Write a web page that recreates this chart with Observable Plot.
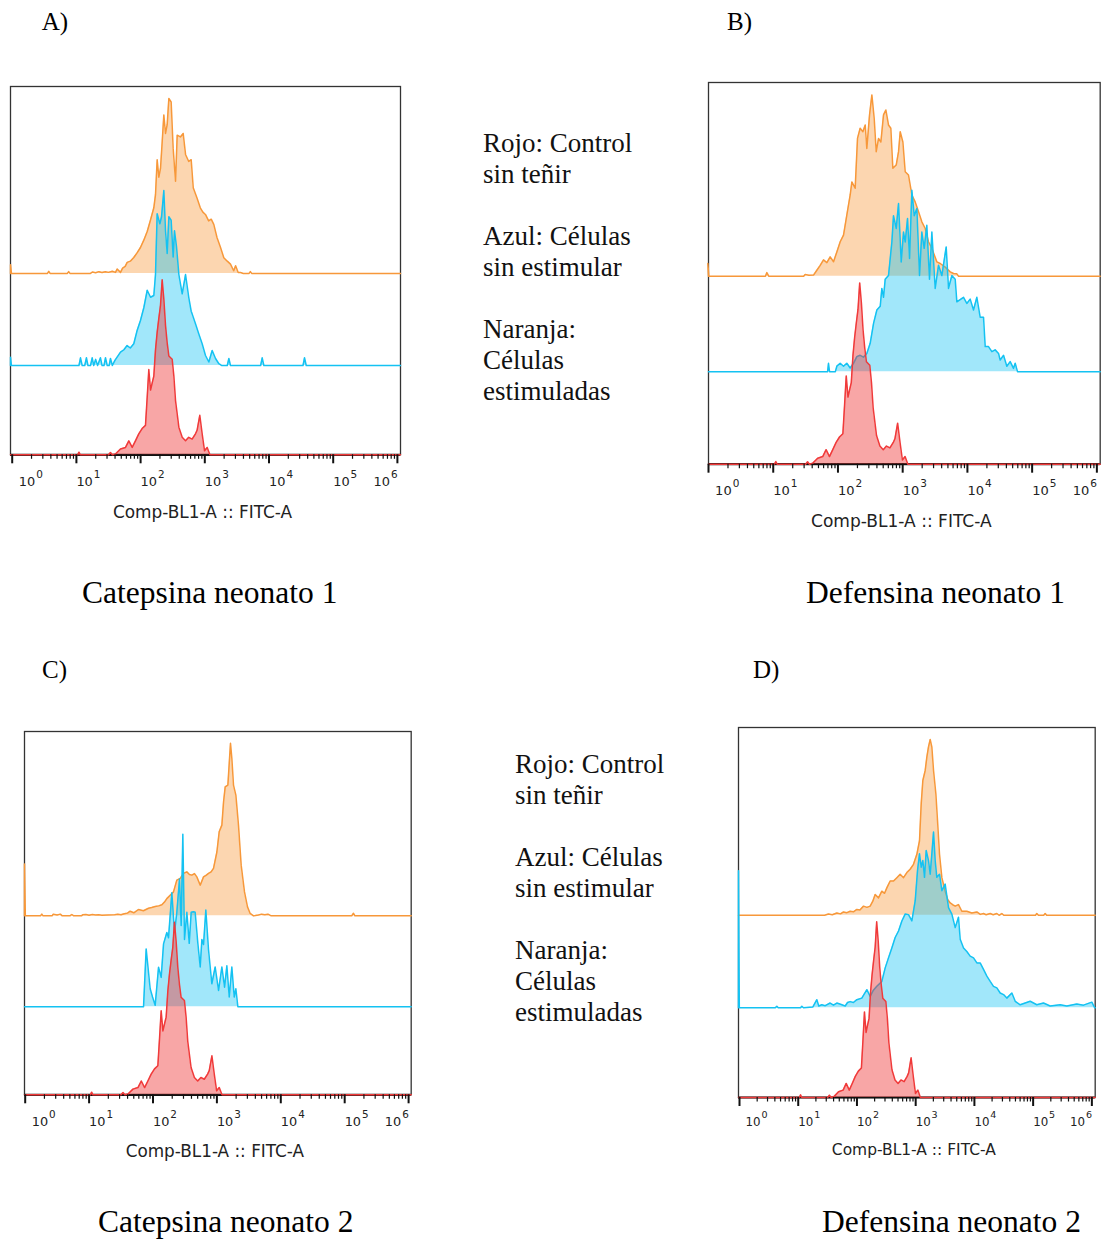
<!DOCTYPE html>
<html><head><meta charset="utf-8">
<script src="https://cdn.jsdelivr.net/npm/d3@7"></script>
<script src="https://cdn.jsdelivr.net/npm/@observablehq/plot@0.6"></script>
<style>
body{margin:0;background:#fff;}
#page{position:relative;width:1103px;height:1240px;overflow:hidden;background:#fff;}
.panel{position:absolute;}
.panel svg{max-width:none !important;}
#overlay{position:absolute;left:0;top:0;}
</style></head><body><div id="page"><svg id="overlay" width="1103" height="1240"></svg></div>
<script>
// ---------- DATA (x = log10 of fluorescence, value = % of series maximum) ----------
const decadeTicks = [0, 1, 2, 3, 4, 5, 6];
const exponentLabels = ["0", "1", "2", "3", "4", "5", "6"];
const axisTitle = "Comp-BL1-A :: FITC-A";
const panelLetters = ["A)", "B)", "C)", "D)"];
const panelTitles = ["Catepsina neonato 1", "Defensina neonato 1", "Catepsina neonato 2", "Defensina neonato 2"];
const legendLines = ["Rojo: Control", "sin teñir", "", "Azul: Células", "sin estimular", "", "Naranja:", "Células", "estimuladas"];

// Rojo: control sin teñir (same control in all panels)
const controlSinTenir = [[1.02,0],[1.04,1.5],[1.06,0],[1.5,0],[1.531,1.3],[1.56,0],[1.609,0.5],[1.687,3.3],[1.765,4.2],[1.817,8],[1.869,4.2],[1.92,8],[1.972,12],[2.024,15],[2.076,16.8],[2.103,33],[2.128,48.7],[2.155,37],[2.18,41],[2.206,45],[2.232,60],[2.258,70],[2.284,78],[2.31,85.5],[2.336,100],[2.362,89],[2.388,74],[2.414,64],[2.44,56.5],[2.492,54.6],[2.518,45],[2.544,31],[2.596,15.8],[2.648,10],[2.7,8],[2.75,10],[2.803,9],[2.855,12],[2.88,14],[2.922,22.6],[2.959,12],[2.996,2.3],[3.037,4.2],[3.08,0]];

// Panel A: Catepsina neonato 1
const catepsina1Estimuladas = [[-0.026,5],[-0.012,0],[0.55,0],[0.57,1.2],[0.59,0],[0.86,0],[0.88,1],[0.9,0],[1.22,0],[1.25,0.8],[1.3,0.4],[1.35,1],[1.4,0.5],[1.45,1],[1.5,0.6],[1.56,1.2],[1.609,0.6],[1.635,2.5],[1.687,0.6],[1.72,3],[1.76,4],[1.791,6.3],[1.84,7],[1.894,9.1],[1.95,12],[1.998,14.8],[2.05,19],[2.103,24],[2.15,30],[2.206,37.5],[2.232,45],[2.258,65],[2.284,55],[2.31,60],[2.336,75],[2.362,90.6],[2.388,80],[2.414,85],[2.44,100],[2.476,98],[2.507,71.6],[2.544,52.7],[2.57,79],[2.62,78],[2.663,80],[2.7,68],[2.75,64],[2.788,65],[2.82,49],[2.85,46],[2.88,43],[2.93,37.5],[2.97,35],[3.01,33.7],[3.06,30],[3.1,31],[3.14,28],[3.19,20.5],[3.245,14.8],[3.296,9],[3.35,7],[3.4,5.3],[3.45,1.5],[3.48,4.4],[3.52,0.5],[3.556,0.5],[3.6,0],[3.69,0],[3.71,1],[3.73,0]];
const catepsina1SinEstimular = [[-0.026,4.7],[-0.012,0],[1.04,0],[1.064,4.4],[1.09,0],[1.13,0],[1.157,4.4],[1.18,0],[1.22,0],[1.246,4.4],[1.27,0],[1.3,3.5],[1.33,0],[1.375,4.4],[1.4,0],[1.43,0],[1.453,4.4],[1.48,0],[1.51,0],[1.531,4],[1.56,0],[1.6,2.9],[1.687,7.6],[1.74,9],[1.79,11.4],[1.84,10],[1.894,12.4],[1.946,20],[1.998,25.7],[2.05,33],[2.103,43],[2.155,39],[2.206,40],[2.232,52],[2.258,86.7],[2.3,81],[2.326,85],[2.362,100],[2.388,77],[2.414,64],[2.44,85],[2.476,83],[2.507,62],[2.528,77],[2.559,68],[2.596,52],[2.648,41],[2.7,52],[2.75,39],[2.788,31],[2.803,29.5],[2.855,23.8],[2.907,18],[2.959,12.4],[3.011,5.7],[3.063,2],[3.115,8.6],[3.167,4],[3.219,1],[3.26,0],[3.35,0],[3.375,4],[3.4,0],[3.87,0],[3.894,4.4],[3.92,0],[4.53,0],[4.553,4.4],[4.58,0]];

// Panel B: Defensina neonato 1
const defensina1Estimuladas = [[-0.01,7],[0.005,0],[0.88,0],[0.902,2],[0.93,0],[1.47,0],[1.494,1],[1.55,0.5],[1.623,0.6],[1.674,3.3],[1.726,6],[1.777,9],[1.829,7.5],[1.88,10.7],[1.932,8],[1.983,13.4],[2.035,19],[2.086,22.7],[2.137,33.7],[2.189,44.8],[2.215,52],[2.266,48.5],[2.302,76],[2.343,81.6],[2.385,79.7],[2.421,83.4],[2.446,70.5],[2.488,89],[2.524,100],[2.56,87],[2.591,68.7],[2.627,76],[2.663,74],[2.704,89],[2.74,91.7],[2.781,83.4],[2.817,81.6],[2.848,59.5],[2.9,61.3],[2.936,68.7],[2.962,79.7],[3.003,74],[3.039,57.6],[3.09,55.8],[3.142,44.8],[3.193,41],[3.245,35.5],[3.296,30],[3.348,26.3],[3.399,19],[3.451,15.3],[3.528,7.9],[3.58,7],[3.657,5],[3.734,2.4],[3.786,1.5],[3.837,1.3],[3.863,0]];
const defensina1SinEstimular = [[1.84,0],[1.854,4.6],[1.87,0],[1.96,0],[1.983,3],[2.035,4.6],[2.086,3],[2.137,4.6],[2.189,2],[2.24,4.6],[2.292,8.3],[2.343,9],[2.395,8],[2.446,10],[2.498,15.6],[2.55,26.6],[2.601,34],[2.653,36],[2.678,45.9],[2.704,41],[2.73,51],[2.781,53],[2.833,71.5],[2.858,86],[2.9,79],[2.936,92.7],[2.977,60.5],[3.013,77],[3.039,71.5],[3.075,84.4],[3.106,62.4],[3.142,100],[3.178,86],[3.219,90],[3.26,53],[3.296,77],[3.332,68],[3.373,80.7],[3.414,51],[3.451,77],[3.502,45.9],[3.554,58.7],[3.605,53],[3.672,68.8],[3.708,45.9],[3.76,53],[3.811,51],[3.837,38.5],[3.94,41],[3.991,37.6],[4.043,40],[4.094,34],[4.146,41],[4.197,30],[4.249,30],[4.275,13.8],[4.326,13.8],[4.378,11],[4.429,12],[4.481,10],[4.506,6.4],[4.558,9],[4.609,3],[4.661,5.5],[4.712,1.8],[4.738,4.6],[4.774,0]];

// Panel C: Catepsina neonato 2
const catepsina2Estimuladas = [[-0.011,30],[0.002,0],[0.24,0],[0.26,1],[0.28,0],[0.42,0],[0.44,1],[0.5,0.5],[0.55,1],[0.58,0],[0.7,0],[0.73,0.8],[0.76,0],[0.88,0],[0.9,0.6],[0.95,0.8],[1.0,0.4],[1.05,0.8],[1.1,0.5],[1.15,0.6],[1.2,0.4],[1.3,0.5],[1.4,0.6],[1.45,1],[1.5,0.6],[1.55,1.2],[1.6,1.6],[1.643,2.7],[1.7,1.8],[1.773,3.7],[1.85,3],[1.93,4.4],[1.98,4.8],[2.034,5.4],[2.09,5.8],[2.139,6.4],[2.18,8],[2.217,10],[2.269,12],[2.321,13.9],[2.373,20.7],[2.426,21.7],[2.478,24.6],[2.53,25.5],[2.57,24],[2.608,23.6],[2.65,24.5],[2.686,22.6],[2.739,17.8],[2.791,22.6],[2.83,23.5],[2.869,24.6],[2.91,25.5],[2.947,27.5],[3.0,37],[3.036,48.7],[3.078,52.6],[3.104,66],[3.13,74.8],[3.172,75.8],[3.198,91.3],[3.213,100],[3.234,91.3],[3.26,75.8],[3.297,70],[3.338,52.6],[3.38,29.4],[3.432,13.9],[3.479,5.2],[3.521,1.4],[3.573,0],[3.65,0.5],[3.7,1],[3.75,0.6],[3.8,1],[3.85,0],[5.11,0],[5.138,1.5],[5.16,0]];
const catepsina2SinEstimular = [[1.84,0],[1.852,0],[1.893,33.5],[1.956,10.4],[1.993,5.6],[2.034,0.8],[2.087,22.9],[2.128,17],[2.165,36.4],[2.217,43],[2.243,40],[2.295,66],[2.337,43],[2.373,54.7],[2.415,74],[2.441,47],[2.467,100],[2.493,39],[2.53,54.7],[2.567,36.7],[2.598,54.7],[2.634,55],[2.66,54.7],[2.702,36.7],[2.739,23],[2.765,39],[2.791,36],[2.827,56],[2.869,33],[2.921,13.3],[2.973,23],[3.026,9.4],[3.078,23],[3.12,11.3],[3.156,23.7],[3.193,5.6],[3.234,23],[3.271,5.6],[3.297,10.4],[3.328,0]];

// Panel D: Defensina neonato 2
const defensina2Estimuladas = [[1.45,0],[1.516,0.7],[1.58,0.3],[1.658,1.3],[1.72,0.8],[1.771,1.9],[1.83,1.5],[1.885,2.3],[1.94,2],[1.998,3.3],[2.05,3],[2.112,5.2],[2.17,4.5],[2.225,5.2],[2.27,8],[2.31,11.8],[2.367,9.9],[2.424,13.7],[2.47,12.5],[2.509,15.6],[2.566,19.5],[2.623,19.5],[2.68,21.4],[2.736,23.3],[2.793,21.4],[2.85,24.3],[2.906,26.2],[2.963,29],[3.02,34.7],[3.065,42.4],[3.094,63.4],[3.122,76.7],[3.162,82.4],[3.19,90],[3.218,95.8],[3.247,100],[3.275,95.8],[3.304,82.4],[3.344,69],[3.372,53.8],[3.406,34.7],[3.446,21.4],[3.502,13.7],[3.545,9],[3.588,7],[3.63,6],[3.673,5.2],[3.729,6.1],[3.786,2.3],[3.871,2.3],[3.956,1.3],[4.042,1.9],[4.1,0.5],[4.155,1],[4.2,0.3],[4.269,1],[4.32,0.3],[4.382,1],[4.42,0],[4.467,1],[4.5,0],[5.04,0],[5.063,1],[5.09,0],[5.18,0],[5.205,1],[5.23,0]];
const defensina2SinEstimular = [[-0.017,78],[-0.003,0],[0.61,0],[0.636,0.8],[0.66,0],[1.04,0],[1.062,0.8],[1.09,0],[1.25,0.5],[1.317,4.6],[1.35,1],[1.402,1.7],[1.46,1.2],[1.544,2.7],[1.6,1.5],[1.658,2.7],[1.72,2],[1.8,1],[1.84,3],[1.885,3.5],[1.94,3],[1.998,4.6],[2.083,5.5],[2.169,10.3],[2.225,6.5],[2.28,10],[2.339,12.2],[2.424,15],[2.481,22.7],[2.537,28.4],[2.594,34],[2.651,40],[2.708,43.7],[2.765,49.4],[2.821,53.3],[2.878,53],[2.935,49.4],[2.992,60.9],[3.031,78],[3.065,87.6],[3.094,80],[3.122,83.8],[3.15,74.2],[3.179,89.5],[3.218,83.8],[3.247,76],[3.275,87.6],[3.304,100],[3.332,83.8],[3.36,74.2],[3.406,76],[3.446,66.6],[3.502,70.4],[3.559,57],[3.616,53.3],[3.673,45.6],[3.729,51.5],[3.758,39],[3.815,34],[3.871,32],[3.928,29.4],[3.985,28.4],[4.042,25.5],[4.098,25.5],[4.155,21.8],[4.212,18],[4.269,15],[4.325,12.2],[4.382,11.3],[4.439,8.4],[4.496,7.5],[4.552,5.5],[4.638,8.4],[4.695,3.7],[4.78,1.7],[4.865,2.7],[4.95,3.7],[5.063,1.7],[5.177,2.7],[5.29,1],[5.461,1.7],[5.574,1],[5.744,2.1],[5.858,1.5],[6.0,3.2],[6.047,0]];

// ---------- LAYOUT ----------
const panels = [
  {orange: catepsina1Estimuladas, blue: catepsina1SinEstimular, red: controlSinTenir, left: 10, right: 400, top: 85.7, bottom: 454, d0: 11.7, ppd: 64.2},
  {orange: defensina1Estimuladas, blue: defensina1SinEstimular, red: controlSinTenir, left: 708.3, right: 1100, top: 82.3, bottom: 464, d0: 708.3, ppd: 64.73},
  {orange: catepsina2Estimuladas, blue: catepsina2SinEstimular, red: controlSinTenir, left: 24.3, right: 411, top: 731, bottom: 1094.3, d0: 25, ppd: 63.9},
  {orange: defensina2Estimuladas, blue: defensina2SinEstimular, red: controlSinTenir, left: 738.3, right: 1095, top: 726.7, bottom: 1096.7, d0: 739.3, ppd: 58.73}
];
const COLORS = {orange: "#f7983a", blue: "#14c2f2", red: "#f03a3a"};
const OFFSETS = {red: 0, blue: 0.97, orange: 1.97};
const PEAK = 1.9;
const minorTicks = [];
for (let d = 0; d < 6; d++) for (let k = 2; k <= 9; k++) minorTicks.push(d + Math.log10(k));

function makePanel(p) {
  const mL = 14, mR = 14, mT = 10, mB = 80;
  const fw = p.right - p.left, fh = p.bottom - p.top;
  const s = p.ppd / 64.5;
  const xDomain = [(p.left - p.d0) / p.ppd, (p.right - p.d0) / p.ppd];
  const unit = fh / 4;
  const k = PEAK / 100;
  const pts = arr => [{x: xDomain[0], v: 0}, ...arr.map(([x, v]) => ({x, v})), {x: xDomain[1], v: 0}];
  const seriesMarks = [];
  for (const key of ["orange", "blue", "red"]) {
    const off = OFFSETS[key];
    const data = pts(p[key]);
    seriesMarks.push(
      Plot.areaY(data, {x: "x", y1: () => off, y2: d => off + d.v * k, fill: COLORS[key], fillOpacity: key === "red" ? 0.45 : 0.4, curve: "linear"}),
      Plot.line(data, {x: "x", y: d => off + d.v * k, stroke: COLORS[key], strokeWidth: 1.5, curve: "linear"})
    );
  }
  const last = decadeTicks.length - 1;
  const shift = (d, i) => (i === 0 ? 6.6 : i === last ? -24 : 0) * s;
  const font = "DejaVu Sans";
  const W = fw + mL + mR, H = fh + mT + mB;
  const chart = Plot.plot({
    width: W, height: H,
    marginLeft: mL, marginRight: mR, marginTop: mT, marginBottom: mB,
    x: {domain: xDomain, axis: null},
    y: {domain: [0, 4], axis: null},
    style: {background: "none", overflow: "visible", maxWidth: "none"},
    marks: [
      Plot.frame({stroke: "#333", strokeWidth: 1.3}),
      Plot.ruleY([0], {stroke: "#111", strokeWidth: 2.2}),
      ...seriesMarks,
      Plot.ruleX(decadeTicks, {x: d => d, y1: 0, y2: -9 / unit, stroke: "#111", strokeWidth: 2}),
      Plot.ruleX(minorTicks, {x: d => d, y1: 0, y2: -4.5 / unit, stroke: "#111", strokeWidth: 1.2}),
      Plot.text(decadeTicks, {x: (d, i) => d + shift(d, i) / p.ppd, text: () => "10", frameAnchor: "bottom", dy: 31 * s, textAnchor: "start", lineAnchor: "bottom", fontSize: 13 * s, fontFamily: font, fill: "#222"}),
      Plot.text(decadeTicks, {x: (d, i) => d + shift(d, i) / p.ppd, text: (d, i) => exponentLabels[i], frameAnchor: "bottom", dx: 17.5 * s, dy: 23 * s, textAnchor: "start", lineAnchor: "bottom", fontSize: 10.5 * s, fontFamily: font, fill: "#222"}),
      Plot.text([axisTitle], {text: d => d, frameAnchor: "bottom", dx: -3, dy: 63 * s, textAnchor: "middle", lineAnchor: "bottom", fontSize: 17 * s, fontFamily: font, fill: "#222"})
    ]
  });
  chart.style.maxWidth = "none";
  chart.setAttribute("width", W);
  chart.setAttribute("height", H);
  chart.style.width = W + "px";
  chart.style.height = H + "px";
  const div = document.createElement("div");
  div.className = "panel";
  div.style.left = (p.left - mL) + "px";
  div.style.top = (p.top - mT) + "px";
  div.style.width = W + "px";
  div.style.height = H + "px";
  div.appendChild(chart);
  document.getElementById("page").appendChild(div);
}
panels.forEach(makePanel);

// ---------- TEXT ----------
const ov = d3.select("#overlay");
const letterPos = [[41.7, 30], [727, 30], [42, 678], [753, 678]];
panelLetters.forEach((t, i) => ov.append("text").attr("x", letterPos[i][0]).attr("y", letterPos[i][1])
  .attr("font-family", "Liberation Serif").attr("font-size", 25).text(t));
const titlePos = [[82, 603.3], [806, 603.3], [98, 1232], [822, 1232]];
panelTitles.forEach((t, i) => ov.append("text").attr("x", titlePos[i][0]).attr("y", titlePos[i][1])
  .attr("font-family", "Liberation Serif").attr("font-size", 31.5).text(t));
const legendPos = [[483, 151.7], [515, 773.3]];
legendPos.forEach(([x, y0]) => legendLines.forEach((t, i) => {
  if (t) ov.append("text").attr("x", x).attr("y", y0 + i * 31)
    .attr("font-family", "Liberation Serif").attr("font-size", 27).attr("fill", "#111").text(t);
}));
</script></body></html>
